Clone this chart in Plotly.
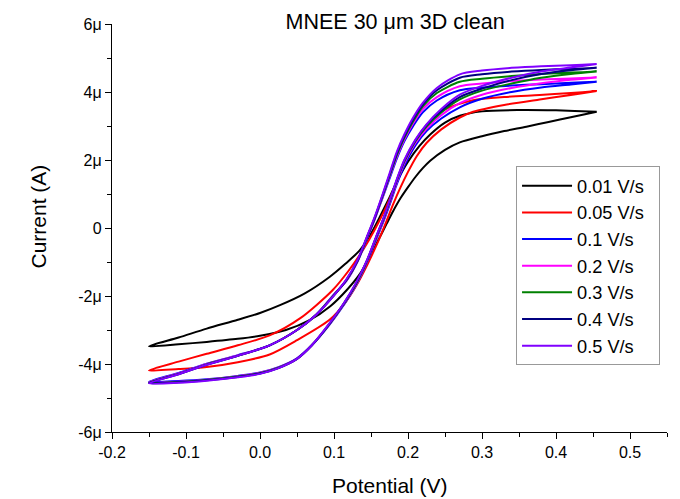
import plotly.graph_objects as go

# Scan rates (legend labels) and colours
labels = ["0.01 V/s", "0.05 V/s", "0.1 V/s", "0.2 V/s", "0.3 V/s", "0.4 V/s", "0.5 V/s"]
colors = ["#000000", "#FF0000", "#0000FF", "#FF00FF", "#008000", "#000080", "#8000FF"]

# ---- 0.01 V/s ----
black_up_x = [-0.15, -0.11, -0.072, -0.03, 0.0, 0.027, 0.06, 0.094, 0.115, 0.135, 0.15, 0.162, 0.175, 0.187, 0.2, 0.215, 0.23, 0.25, 0.27, 0.3, 0.35, 0.4, 0.455]
black_up_y = [-3.48, -3.22, -2.96, -2.7, -2.5, -2.27, -1.93, -1.44, -1.06, -0.65, -0.17, 0.33, 0.9, 1.45, 1.95, 2.4, 2.75, 3.1, 3.3, 3.43, 3.47, 3.46, 3.42]
black_lo_x = [-0.15, -0.11, -0.072, -0.03, 0.0, 0.035, 0.067, 0.095, 0.117, 0.135, 0.148, 0.16, 0.171, 0.18, 0.19, 0.2, 0.21, 0.22, 0.23, 0.25, 0.27, 0.3, 0.33, 0.36, 0.39, 0.42, 0.455]
black_lo_y = [-3.48, -3.42, -3.35, -3.26, -3.17, -3.0, -2.71, -2.3, -1.83, -1.35, -0.85, -0.35, 0.12, 0.5, 0.88, 1.2, 1.5, 1.76, 1.98, 2.3, 2.52, 2.7, 2.85, 2.98, 3.12, 3.26, 3.42]

# ---- 0.05 V/s ----
red_up_x = [-0.15, -0.11, -0.072, -0.03, 0.013, 0.054, 0.098, 0.12, 0.139, 0.155, 0.17, 0.185, 0.2, 0.212, 0.225, 0.243, 0.265, 0.288, 0.33, 0.378, 0.42, 0.455]
red_up_y = [-4.19, -3.93, -3.70, -3.45, -3.16, -2.66, -1.83, -1.25, -0.65, -0.05, 0.6, 1.35, 2.1, 2.6, 3.0, 3.4, 3.62, 3.76, 3.85, 3.91, 3.97, 4.03]
red_lo_x = [-0.15, -0.11, -0.072, -0.03, 0.013, 0.05, 0.094, 0.115, 0.13, 0.145, 0.16, 0.17, 0.18, 0.19, 0.2, 0.212, 0.225, 0.245, 0.27, 0.288, 0.33, 0.378, 0.42, 0.455]
red_lo_y = [-4.19, -4.15, -4.09, -3.95, -3.72, -3.3, -2.7, -2.2, -1.7, -1.08, -0.38, 0.15, 0.7, 1.2, 1.65, 2.12, 2.5, 2.9, 3.25, 3.42, 3.62, 3.78, 3.91, 4.03]

# ---- fast scans share x samples ----
fast_up_x = [-0.15, -0.11, -0.072, -0.03, 0.013, 0.05, 0.076, 0.1, 0.117, 0.132, 0.144, 0.155, 0.165, 0.175, 0.185, 0.195, 0.207, 0.22, 0.239, 0.27, 0.3, 0.34, 0.38, 0.42, 0.455]
fast_lo_x = [-0.15, -0.11, -0.072, -0.03, 0.0, 0.025, 0.05, 0.07, 0.094, 0.113, 0.13, 0.145, 0.157, 0.167, 0.175, 0.184, 0.195, 0.21, 0.225, 0.245, 0.27, 0.3, 0.34, 0.38, 0.42, 0.455]

blue_up_y = [-4.52, -4.26, -3.99, -3.74, -3.45, -3.0, -2.55, -1.95, -1.55, -0.98, -0.35, 0.25, 0.85, 1.45, 2.05, 2.55, 3.0, 3.4, 3.75, 4.05, 4.13, 4.19, 4.23, 4.27, 4.30]
blue_lo_y = [-4.52, -4.5, -4.45, -4.35, -4.25, -4.09, -3.83, -3.45, -2.84, -2.27, -1.68, -0.99, -0.34, 0.2, 0.67, 1.24, 1.83, 2.43, 2.85, 3.22, 3.55, 3.8, 4.0, 4.13, 4.22, 4.30]
mag_up_y = [-4.54, -4.28, -4.0, -3.75, -3.45, -3.0, -2.55, -1.96, -1.54, -0.97, -0.33, 0.27, 0.87, 1.5, 2.1, 2.6, 3.08, 3.5, 3.85, 4.17, 4.25, 4.32, 4.37, 4.4, 4.43]
mag_lo_y = [-4.54, -4.52, -4.46, -4.36, -4.26, -4.1, -3.84, -3.45, -2.83, -2.25, -1.66, -0.97, -0.31, 0.24, 0.72, 1.3, 1.9, 2.5, 2.92, 3.32, 3.67, 3.92, 4.12, 4.26, 4.36, 4.43]
green_up_y = [-4.55, -4.29, -4.01, -3.76, -3.45, -3.0, -2.55, -1.97, -1.53, -0.96, -0.31, 0.29, 0.9, 1.53, 2.15, 2.65, 3.14, 3.58, 3.97, 4.3, 4.39, 4.47, 4.53, 4.57, 4.60]
green_lo_y = [-4.55, -4.53, -4.47, -4.37, -4.27, -4.11, -3.85, -3.45, -2.82, -2.24, -1.64, -0.95, -0.28, 0.27, 0.76, 1.34, 1.95, 2.55, 2.98, 3.4, 3.78, 4.04, 4.25, 4.42, 4.53, 4.60]
navy_up_y = [-4.56, -4.3, -4.02, -3.76, -3.45, -3.0, -2.55, -1.98, -1.52, -0.95, -0.3, 0.3, 0.92, 1.56, 2.2, 2.7, 3.2, 3.63, 4.05, 4.42, 4.52, 4.6, 4.65, 4.68, 4.71]
navy_lo_y = [-4.56, -4.54, -4.48, -4.38, -4.28, -4.12, -3.85, -3.45, -2.81, -2.23, -1.62, -0.93, -0.26, 0.29, 0.78, 1.36, 1.98, 2.58, 3.03, 3.45, 3.85, 4.1, 4.35, 4.53, 4.64, 4.71]
purple_up_y = [-4.57, -4.3, -4.02, -3.76, -3.45, -3.0, -2.55, -1.98, -1.5, -0.93, -0.28, 0.33, 0.95, 1.6, 2.25, 2.75, 3.25, 3.68, 4.12, 4.52, 4.63, 4.71, 4.76, 4.79, 4.82]
purple_lo_y = [-4.57, -4.55, -4.49, -4.39, -4.29, -4.12, -3.85, -3.45, -2.8, -2.22, -1.6, -0.92, -0.25, 0.3, 0.8, 1.38, 2.0, 2.6, 3.05, 3.5, 3.92, 4.18, 4.42, 4.6, 4.72, 4.82]

series = [
    (black_lo_x, black_lo_y, black_up_x, black_up_y),
    (red_lo_x, red_lo_y, red_up_x, red_up_y),
    (fast_lo_x, blue_lo_y, fast_up_x, blue_up_y),
    (fast_lo_x, mag_lo_y, fast_up_x, mag_up_y),
    (fast_lo_x, green_lo_y, fast_up_x, green_up_y),
    (fast_lo_x, navy_lo_y, fast_up_x, navy_up_y),
    (fast_lo_x, purple_lo_y, fast_up_x, purple_up_y),
]

y_ticks = [-6, -4, -2, 0, 2, 4, 6]
y_ticktext = ["-6\u03bc", "-4\u03bc", "-2\u03bc", "0", "2\u03bc", "4\u03bc", "6\u03bc"]
x_ticks = [-0.2, -0.1, 0.0, 0.1, 0.2, 0.3, 0.4, 0.5]
x_ticktext = ["-0.2", "-0.1", "0.0", "0.1", "0.2", "0.3", "0.4", "0.5"]

fig = go.Figure()
for (lx, ly, ux, uy), name, col in zip(series, labels, colors):
    xs = list(lx) + list(ux[::-1])
    ys = list(ly) + list(uy[::-1])
    fig.add_trace(go.Scatter(x=xs, y=ys, mode="lines", name=name + "\u00a0\u00a0",
                             line=dict(color=col, width=2, shape="spline", smoothing=0.8)))

FONT = "Liberation Sans, Arial, sans-serif"
fig.update_layout(
    width=664, height=491,
    margin=dict(l=104, r=5, t=16, b=67),
    paper_bgcolor="white", plot_bgcolor="white",
    font=dict(family=FONT, color="black", size=16),
    title=dict(text="MNEE 30 \u03bcm 3D clean", x=0.583, xanchor="center", y=0.972, yanchor="middle",
               font=dict(size=21.5, family=FONT)),
    xaxis=dict(range=[-0.2, 0.55], tickvals=x_ticks, ticktext=x_ticktext,
               showline=True, linecolor="black", linewidth=1.3, mirror=False,
               ticks="outside", ticklen=6, tickwidth=1.3, tickcolor="black",
               minor=dict(ticks="outside", ticklen=4, tickwidth=1.3, tickcolor="black", dtick=0.05, tick0=0),
               showgrid=False, zeroline=False,
               tickfont=dict(size=16)),
    yaxis=dict(range=[-6, 6], tickvals=y_ticks, ticktext=y_ticktext,
               showline=True, linecolor="black", linewidth=1.3, mirror=False,
               ticks="outside", ticklen=6, tickwidth=1.3, tickcolor="black",
               minor=dict(ticks="outside", ticklen=4, tickwidth=1.3, tickcolor="black", dtick=1, tick0=0),
               showgrid=False, zeroline=False,
               tickfont=dict(size=16)),
    annotations=[
        dict(text="Potential (V)", xref="paper", yref="paper", x=0.5, y=-0.1307,
             xanchor="center", yanchor="middle", showarrow=False, font=dict(size=21)),
        dict(text="Current (A)", xref="paper", yref="paper", x=-0.1316, y=0.528,
             xanchor="center", yanchor="middle", showarrow=False, textangle=-90, font=dict(size=21)),
    ],
    legend=dict(x=0.728, y=0.651, xanchor="left", yanchor="top",
                bordercolor="#999999", borderwidth=1, bgcolor="white",
                font=dict(size=18.2), tracegroupgap=0, itemwidth=50),
    showlegend=True,
)

fig.write_html("out.html")
